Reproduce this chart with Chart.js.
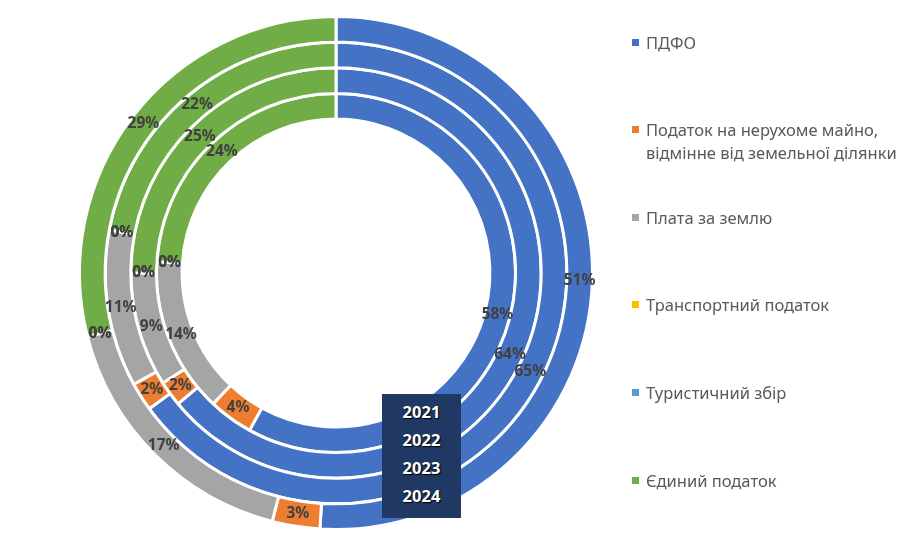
<!DOCTYPE html>
<html lang="uk">
<head>
<meta charset="utf-8">
<script src="https://cdn.jsdelivr.net/npm/chart.js@4"></script>
<style>
  html, body { margin: 0; padding: 0; background: #fff; }
  #wrap { position: relative; width: 909px; height: 551px; overflow: hidden; }
  #legend { position: absolute; left: 632px; top: 0; font-family: "Noto Sans", sans-serif; font-size: 16.5px; color: #595959; }
  .item { position: absolute; left: 0; white-space: nowrap; line-height: 23px; }
  .item i { position: absolute; left: 0; top: 8px; width: 7px; height: 7px; }
  .item span { display: block; margin-left: 14px; }
  #years { position: absolute; left: 382px; top: 394px; width: 79px; height: 124px; background: #1f3864;
           font-family: "Noto Sans", sans-serif; font-weight: bold; font-size: 16.5px; color: #fff;
           text-align: center; text-shadow: 1px 1px 1px #000; }
  #years div { position: absolute; left: 0; width: 100%; line-height: 20px; }
</style>
</head>
<body>
<div id="wrap">
  <canvas id="donut" width="909" height="551"></canvas>
  <div id="legend"></div>
  <div id="years"></div>
</div>
<script>
// категорії податків (за годинниковою стрілкою від 12 години)
const categories = [
  "ПДФО",
  ["Податок на нерухоме майно,", "відмінне від земельної ділянки"],
  "Плата за землю",
  "Транспортний податок",
  "Туристичний збір",
  "Єдиний податок",
];
const colors = ["#4472C4", "#ED7D31", "#A5A5A5", "#FFC000", "#5B9BD5", "#70AD47"];

// роки: 2021 — внутрішнє кільце, 2024 — зовнішнє
const years = ["2021", "2022", "2023", "2024"];
const share2021 = [58, 4, 14, 0, 0, 24];
const share2022 = [64, 2, 9, 0, 0, 25];
const share2023 = [65, 2, 11, 0, 0, 22];
const share2024 = [51, 3, 17, 0, 0, 29];
const shares = [share2021, share2022, share2023, share2024];

// підписи відсотків на кожному сегменті
const pctLabels = {
  id: "pctLabels",
  afterDatasetsDraw(chart) {
    const ctx = chart.ctx;
    ctx.save();
    ctx.font = "bold 15.5px 'Noto Sans', sans-serif";
    ctx.fillStyle = "#404040";
    ctx.textAlign = "center";
    ctx.textBaseline = "middle";
    chart.data.datasets.forEach((ds, i) => {
      const meta = chart.getDatasetMeta(i);
      meta.data.forEach((arc, j) => {
        const p = arc.getCenterPoint();
        ctx.fillText(ds.data[j] + "%", p.x, p.y);
      });
    });
    ctx.restore();
  },
};

const ctx = document.getElementById("donut").getContext("2d");
new Chart(ctx, {
  type: "doughnut",
  data: {
    labels: categories,
    // перший датасет у Chart.js — зовнішнє кільце
    datasets: years.map((y, i) => ({
      label: y,
      data: shares[i],
      backgroundColor: colors,
      borderColor: "#fff",
      borderWidth: 3,
    })).reverse(),
  },
  options: {
    responsive: false,
    animation: false,
    cutout: "60%",
    layout: { padding: { left: 78, right: 315, top: 15, bottom: 20 } },
    plugins: {
      legend: { display: false },
      tooltip: { enabled: false },
    },
  },
  plugins: [pctLabels],
});

// легенда праворуч
const legend = document.getElementById("legend");
categories.forEach((c, i) => {
  const item = document.createElement("div");
  item.className = "item";
  item.style.top = (42 + i * 87.6 - 11.5) + "px";
  const sw = document.createElement("i");
  sw.style.background = colors[i];
  item.appendChild(sw);
  const lines = Array.isArray(c) ? c : [c];
  lines.forEach((t) => {
    const s = document.createElement("span");
    s.textContent = t;
    item.appendChild(s);
  });
  legend.appendChild(item);
});

// блок з роками
const yearBox = document.getElementById("years");
years.forEach((y, i) => {
  const d = document.createElement("div");
  d.style.top = (8 + i * 28) + "px";
  d.textContent = y;
  yearBox.appendChild(d);
});
</script>
</body>
</html>
